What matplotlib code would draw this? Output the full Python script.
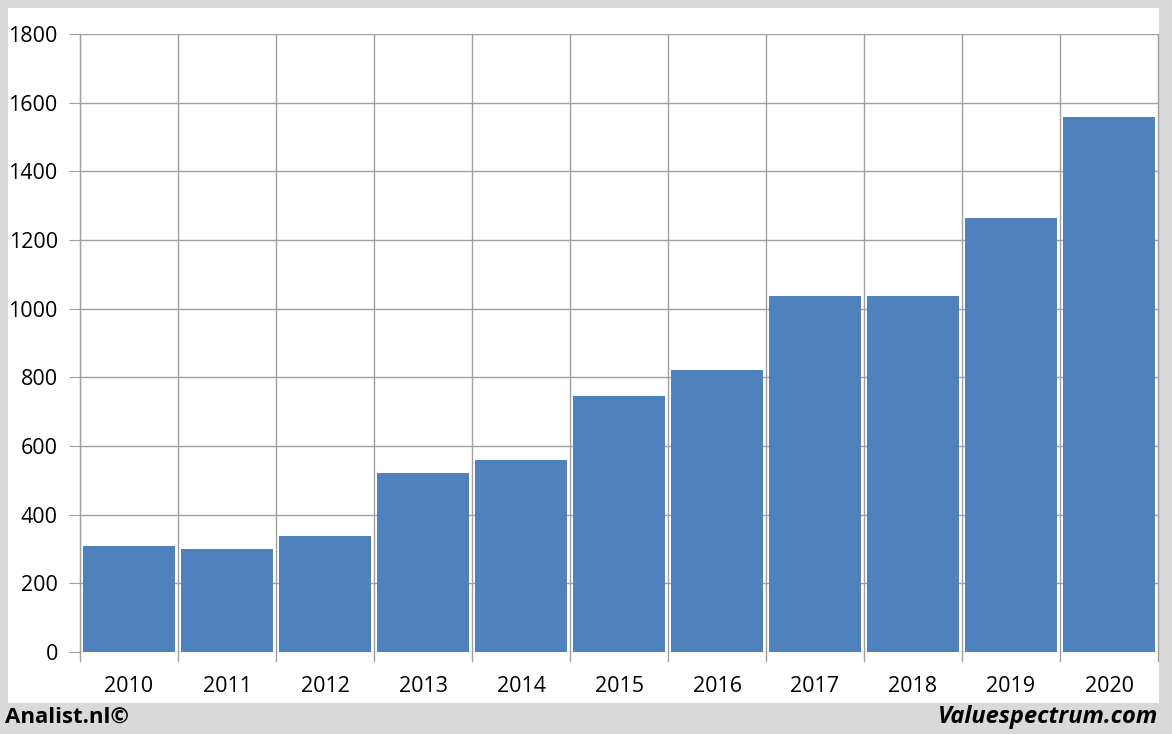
import matplotlib.pyplot as plt
from matplotlib.patches import Rectangle

years = ["2010", "2011", "2012", "2013", "2014", "2015", "2016", "2017", "2018", "2019", "2020"]
values = [308, 300, 338, 521, 559, 746, 821, 1037, 1037, 1264, 1558]
yticks = [0, 200, 400, 600, 800, 1000, 1200, 1400, 1600, 1800]

plt.rcParams['font.family'] = ['Open Sans', 'DejaVu Sans']

fig = plt.figure(figsize=(11.72, 7.34), dpi=100)
fig.patch.set_facecolor('#d9d9d9')
# white panel behind the chart
fig.patches.append(Rectangle((8 / 1172, 1 - 703 / 734), 1151 / 1172, 695 / 734,
                             transform=fig.transFigure, facecolor='white',
                             edgecolor='none', zorder=-5))

ax = fig.add_axes([80 / 1172, 1 - 652 / 734, 1078 / 1172, 618 / 734])
ax.set_facecolor('none')
x = list(range(len(years)))
ax.bar(x, values, width=0.93, color='#4f81bd', edgecolor='none', zorder=3)

ax.set_xlim(-0.5, len(years) - 0.5)
ax.set_ylim(0, 1800)
ax.set_yticks(yticks)
ax.set_yticklabels([str(v) for v in yticks], fontsize=15.5)
ax.set_xticks(x)
ax.set_xticklabels(years, fontsize=15.5)
ax.tick_params(axis='x', length=0, pad=17)
ax.tick_params(axis='y', length=8, color='#a0a0a0', pad=8)

# gridlines at category boundaries and y ticks
for b in range(len(years) + 1):
    xb = b - 0.5
    ax.plot([xb, xb], [-25, 1800], color='#a0a0a0', lw=1, zorder=1, clip_on=False)
ax.yaxis.grid(True, color='#a0a0a0', lw=1, zorder=1)
ax.set_axisbelow(True)
for s in ['top', 'right', 'bottom']:
    ax.spines[s].set_visible(False)
ax.spines['left'].set_color('#a0a0a0')

fig.text(5 / 1172, 1 - 717 / 734, "Analist.nl©", fontsize=16, fontweight='bold',
         va='center', ha='left')
fig.text(1158 / 1172, 1 - 717 / 734, "Valuespectrum.com", fontsize=17, fontweight='bold',
         style='italic', va='center', ha='right')

fig.savefig('out.png', dpi=100, facecolor=fig.get_facecolor())
